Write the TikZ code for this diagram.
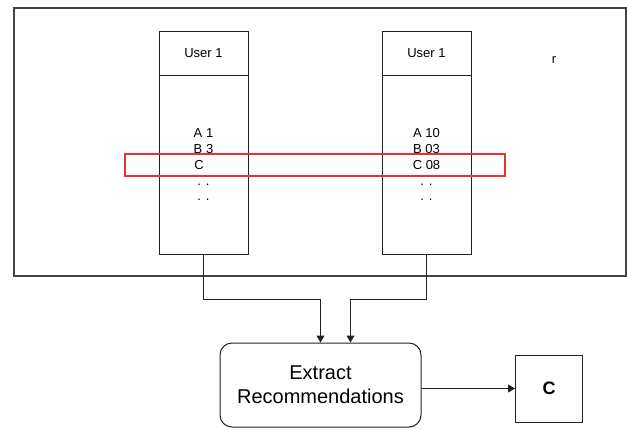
\documentclass[tikz,border=0pt]{standalone}
\usepackage{fontspec}
\setmainfont{Liberation Sans}
\usetikzlibrary{arrows.meta,positioning}
\definecolor{Ink}{HTML}{222222}
\definecolor{FrameGrey}{HTML}{444444}
\definecolor{HiRed}{HTML}{E8322E}

\begin{document}
\begin{tikzpicture}[x=1pt,y=-1pt,
  head/.style={draw=Ink,line width=1pt,minimum width=89pt,minimum height=44pt,inner sep=0pt,font=\fontsize{13}{16}\selectfont},
  col/.style={draw=Ink,line width=1pt,minimum width=89pt,minimum height=179pt,inner sep=0pt,align=center,font=\fontsize{13}{15.8}\selectfont},
  pick/.style={draw=HiRed,line width=1.6pt,minimum width=380pt,minimum height=21.5pt,inner sep=0pt},
  task/.style={draw=Ink,line width=1pt,rounded corners=12pt,minimum width=201pt,minimum height=84pt,align=center,font=\fontsize{20}{24}\selectfont},
  result/.style={draw=Ink,line width=1pt,minimum width=67pt,minimum height=67pt,inner sep=0pt,font=\fontsize{18}{22}\selectfont\bfseries},
  link/.style={draw=Ink,line width=1pt,-{Triangle[length=7pt,width=8pt]}}
]
\useasboundingbox[fill=white] (0,0) rectangle (627,429);
\draw[FrameGrey,line width=1.2pt] (14,8) rectangle (626,276);

% user columns
\node[head] (head1) at (203.5,53) {User 1};
\node[col] (body1) at (203.5,164.75) {A 1\\B 3\\C\hspace{9pt}\null\\. .\\. .};
\node[head] (head2) at (426.5,53) {User 1};
\node[col] (body2) at (426.5,164.75) {A 10\\B 03\\C 08\\. .\\. .};
\node[pick] (sel) at (314.8,165) {};
\node[font=\fontsize{13}{16}\selectfont] (mark) at (554,60) {r};

% extraction
\node[task] (ext) at (320.5,385) {Extract\\Recommendations};
\node[result] (out) at (549,388.5) {C};

\draw[link] (body1.south) -- ++(0,45) -| (ext.north);
\draw[link] (body2.south) -- ++(0,45) -| ([xshift=30pt]ext.north);
\draw[link] (out.west -| ext.east) -- (out.west);
\end{tikzpicture}
\end{document}
